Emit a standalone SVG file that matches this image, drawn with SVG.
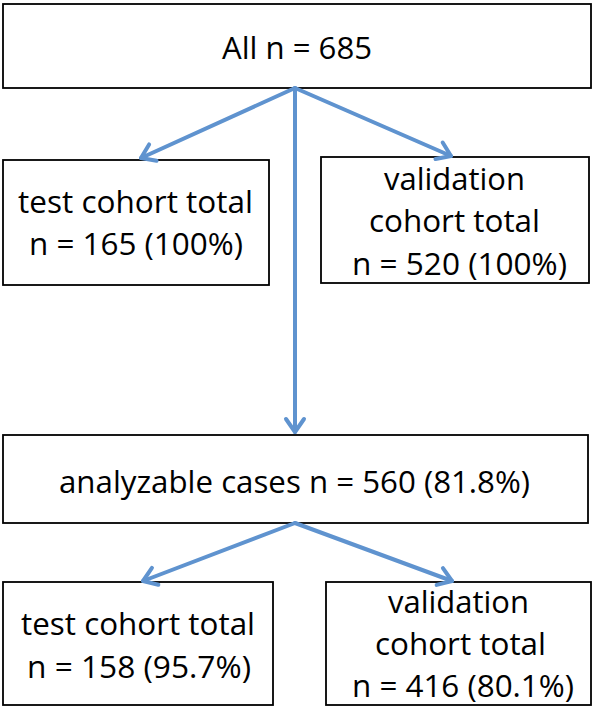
<svg xmlns="http://www.w3.org/2000/svg" width="596" height="710" viewBox="0 0 596 710">
<style>
.box{fill:#fff;stroke:#000;stroke-width:1.8}
.t{font-family:"Open Sans","Noto Sans","Liberation Sans",sans-serif;font-size:31px;fill:#000;text-anchor:middle}
.c{stroke:#5f93cf;stroke-width:4;fill:none;stroke-linecap:round;marker-end:url(#ah)}
</style>
<defs>
<marker id="ah" markerUnits="userSpaceOnUse" markerWidth="34" markerHeight="34" viewBox="-17 -17 34 34" refX="0" refY="0" orient="auto">
<path d="M-13,-9 L0,0 L-13,9" fill="none" stroke="#5f93cf" stroke-width="4" stroke-linecap="round" stroke-linejoin="round"/>
</marker>
</defs>
<rect width="596" height="710" fill="#fff"/>
<g id="all">
<rect class="box" x="3" y="4" width="588" height="84"/>
<text class="t" x="297" y="59" textLength="150" lengthAdjust="spacingAndGlyphs">All n = 685</text>
</g>
<g id="test1">
<rect class="box" x="3" y="160" width="266" height="125"/>
<text class="t" x="135.5" y="213" textLength="235" lengthAdjust="spacingAndGlyphs">test cohort total</text>
<text class="t" x="136" y="255" textLength="214" lengthAdjust="spacingAndGlyphs">n = 165 (100%)</text>
</g>
<g id="valid1">
<rect class="box" x="321" y="157" width="268" height="126"/>
<text class="t" x="454.5" y="190" textLength="141" lengthAdjust="spacingAndGlyphs">validation</text>
<text class="t" x="454.5" y="232" textLength="171" lengthAdjust="spacingAndGlyphs">cohort total</text>
<text class="t" x="459.5" y="275" textLength="215" lengthAdjust="spacingAndGlyphs">n = 520 (100%)</text>
</g>
<g id="analyzable">
<rect class="box" x="3" y="435" width="585" height="88"/>
<text class="t" x="294.5" y="493" textLength="471" lengthAdjust="spacingAndGlyphs">analyzable cases n = 560 (81.8%)</text>
</g>
<g id="test2">
<rect class="box" x="3" y="582" width="270" height="123"/>
<text class="t" x="138" y="635" textLength="234" lengthAdjust="spacingAndGlyphs">test cohort total</text>
<text class="t" x="139" y="678" textLength="224" lengthAdjust="spacingAndGlyphs">n = 158 (95.7%)</text>
</g>
<g id="valid2">
<rect class="box" x="326" y="582" width="265" height="123"/>
<text class="t" x="458.5" y="613" textLength="141" lengthAdjust="spacingAndGlyphs">validation</text>
<text class="t" x="460.5" y="655" textLength="171" lengthAdjust="spacingAndGlyphs">cohort total</text>
<text class="t" x="463" y="697" textLength="222" lengthAdjust="spacingAndGlyphs">n = 416 (80.1%)</text>
</g>
<g id="connectors">
<line class="c" x1="295" y1="88" x2="141" y2="158"/>
<line class="c" x1="295" y1="88" x2="451" y2="156"/>
<line class="c" x1="295" y1="88" x2="295" y2="432"/>
<line class="c" x1="295" y1="523" x2="143" y2="581"/>
<line class="c" x1="295" y1="523" x2="452" y2="581"/>
</g>
</svg>
